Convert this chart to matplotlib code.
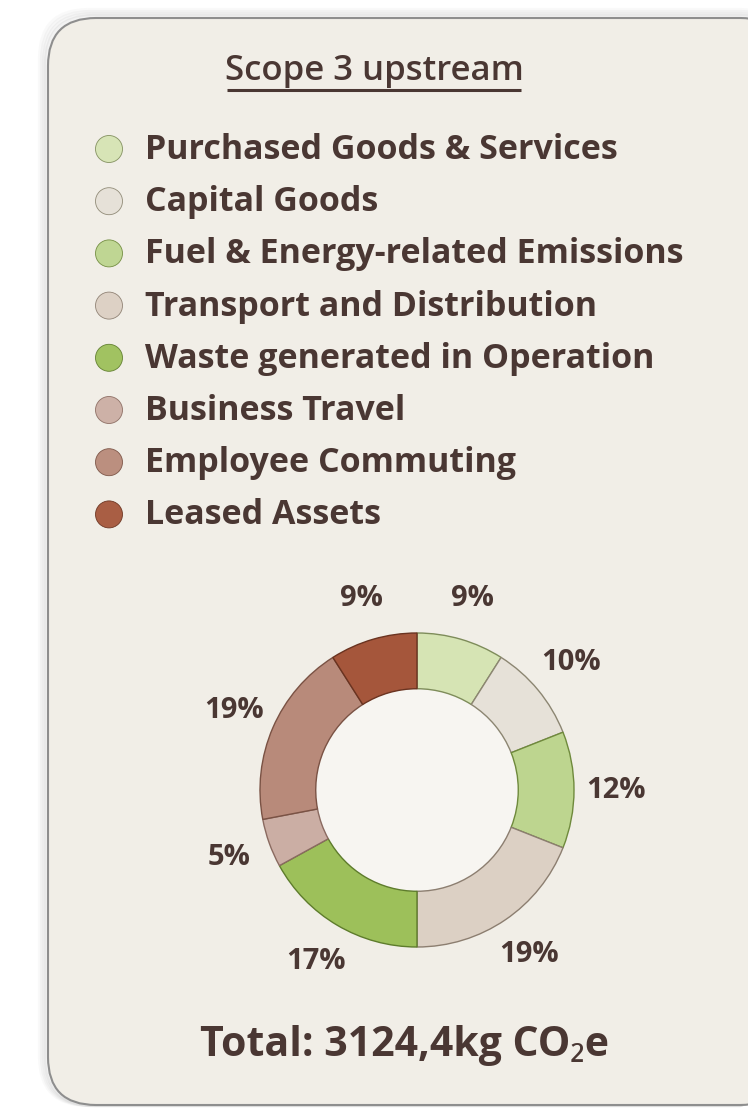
import matplotlib
matplotlib.use("Agg")
import matplotlib.pyplot as plt
from matplotlib.patches import FancyBboxPatch, Circle

# ---- data ----
title = "Scope 3 upstream"
categories = ["Purchased Goods & Services", "Capital Goods",
              "Fuel & Energy-related Emissions", "Transport and Distribution",
              "Waste generated in Operation", "Business Travel",
              "Employee Commuting", "Leased Assets"]
shares = [9, 10, 12, 19, 17, 5, 19, 9]
colors = ["#D6E4B4", "#E6E1D8", "#BDD58F", "#DCD0C4",
          "#9DC05A", "#CBAEA4", "#B88A7A", "#A5563B"]
edge_colors = ["#7E8C5A", "#8C8672", "#6F8A3C", "#8C7E70",
               "#5E7C2C", "#8A6A60", "#7A5244", "#6A3320"]
total_text = "Total: 3124,4kg CO₂e"

W, H = 748, 1109
TXT = "#4A3733"
FONT = ["Open Sans", "Noto Sans", "DejaVu Sans"]

fig = plt.figure(figsize=(W / 100, H / 100), dpi=100)
fig.patch.set_facecolor("white")

bg = fig.add_axes([0, 0, 1, 1])
bg.set_xlim(0, W)
bg.set_ylim(H, 0)
bg.axis("off")

# panel shadow + panel
for off, a in [(8, 0.05), (6, 0.07), (4, 0.09), (2, 0.12)]:
    bg.add_patch(FancyBboxPatch((48 - off, 18 - off), 740 + off, 1087 + off,
                                boxstyle="round,pad=0,rounding_size=48",
                                fc="none", ec="#9A9A9A", lw=3, alpha=a))
bg.add_patch(FancyBboxPatch((48, 18), 740, 1087,
                            boxstyle="round,pad=0,rounding_size=48",
                            fc="#F1EEE7", ec="#8E8E8E", lw=1.5))

# title with underline
bg.text(374, 80, title, ha="center", va="baseline", fontsize=25,
        fontweight="semibold", color=TXT, family=FONT)
bg.plot([227, 521], [90, 90], color=TXT, lw=2.2, solid_capstyle="butt")

# legend
y0, dy = 149, 52.2
for i, (lab, c, ec) in enumerate(zip(categories, colors, edge_colors)):
    y = y0 + i * dy
    bg.add_patch(Circle((109, y), 13.5, fc=c, ec=ec, lw=0.6, alpha=0.95))
    bg.text(145, y + 10, lab, ha="left", va="baseline", fontsize=24.5,
            fontweight="bold", color=TXT, family=FONT)

# donut
cx, cy, R = 417, 790, 157
ax = fig.add_axes([(cx - R) / W, 1 - (cy + R) / H, 2 * R / W, 2 * R / H])
ax.set_facecolor("none")
wedges, _, autotexts = ax.pie(
    shares, colors=colors, startangle=90, counterclock=False,
    radius=1.0, wedgeprops=dict(width=0.355, linewidth=1.0),
    autopct=lambda p: f"{p:.0f}%", pctdistance=1.27,
    textprops=dict(fontsize=21, fontweight="bold", color=TXT, family=FONT))
for w, ec in zip(wedges, edge_colors):
    w.set_edgecolor(ec)
ax.add_patch(Circle((0, 0), 0.645, fc="#F7F5F1", ec="none", zorder=0))
ax.set_xlim(-1, 1)
ax.set_ylim(-1, 1)
ax.set_aspect("auto")

bg.text(405, 1045, total_text, ha="center", va="center", fontsize=29.5,
        fontweight="bold", color=TXT, family=FONT)

fig.savefig("out.png", dpi=100, facecolor=fig.get_facecolor())
